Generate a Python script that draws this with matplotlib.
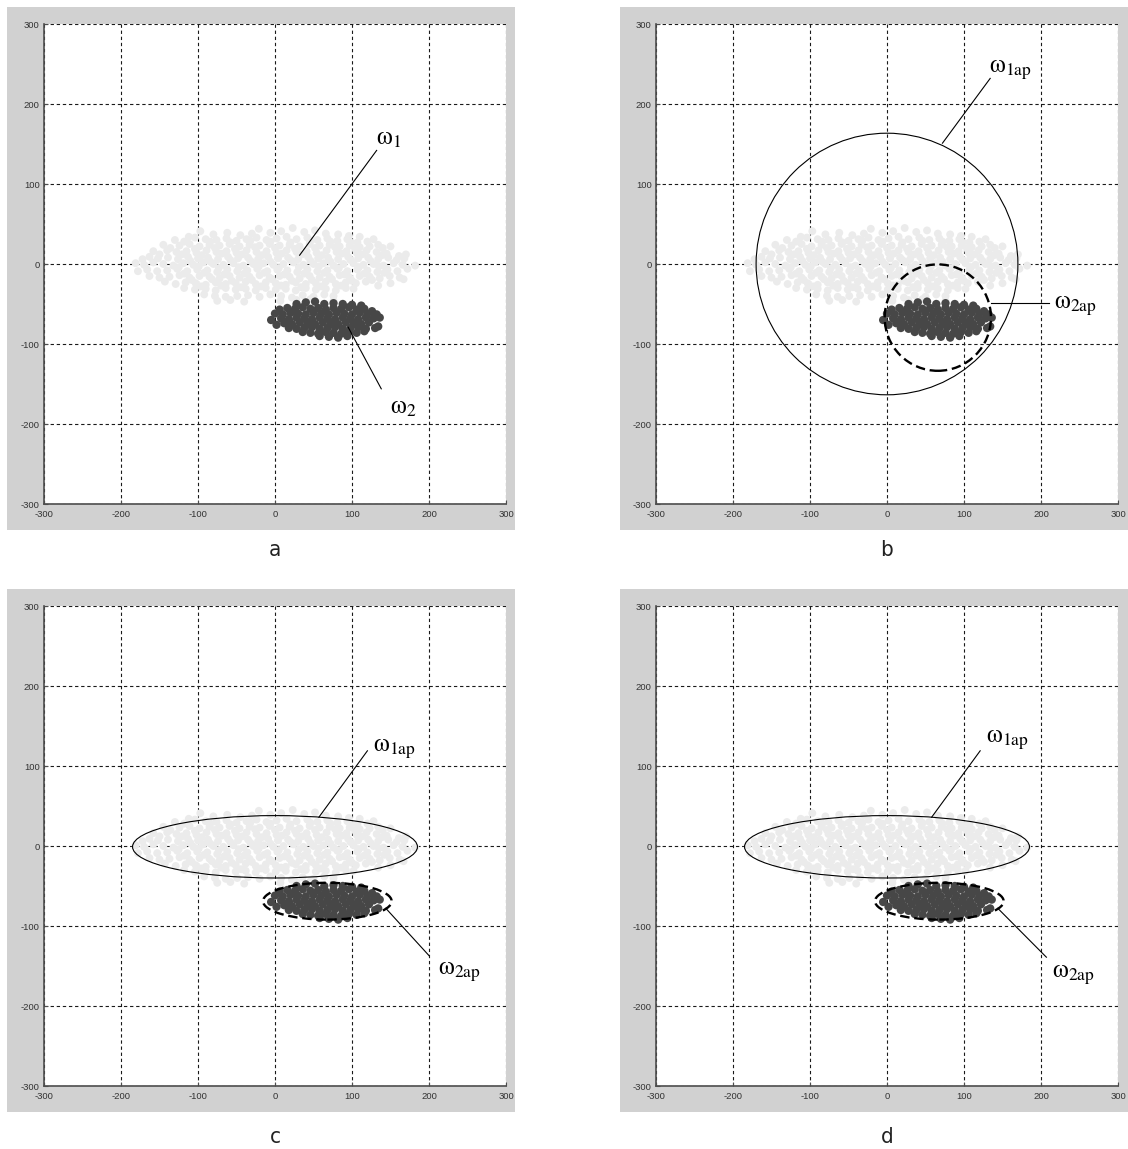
import matplotlib
matplotlib.use('Agg')
import matplotlib.pyplot as plt
from matplotlib.patches import Ellipse, Rectangle

plt.rcParams['mathtext.fontset'] = 'stix'
plt.rcParams['mathtext.default'] = 'rm'
plt.rcParams['axes.unicode_minus'] = False

# ---------------- data ----------------
ticks = [-300, -200, -100, 0, 100, 200, 300]
panel_letters = ['a', 'b', 'c', 'd']

# class omega_1 (light cloud)
w1_points = [
    (-97, 41), (-80, 37), (-62, 39), (-45, 36), (-30, 38), (-21, 44), (-6, 39), (8, 41), (23, 45),
    (38, 40), (52, 42), (66, 38), (82, 37), (96, 35), (-112, 34), (110, 34), (128, 31),
    (-130, 30), (-118, 28), (-104, 33), (-90, 31), (-76, 30), (-63, 32), (-50, 29), (-37, 31),
    (-24, 33), (-11, 30), (2, 32), (15, 34), (28, 31), (42, 33), (55, 30), (68, 32), (81, 29),
    (94, 31), (107, 27), (120, 28), (134, 24),
    (-145, 24), (-136, 20), (-124, 23), (-111, 25), (-98, 22), (-85, 24), (-72, 23), (-59, 25),
    (-46, 22), (-33, 24), (-20, 23), (-7, 25), (6, 23), (19, 24), (32, 22), (45, 25), (58, 23),
    (71, 24), (84, 22), (97, 23), (110, 21), (123, 22), (140, 20), (150, 22),
    (-158, 16), (-150, 12), (-140, 17), (-128, 15), (-115, 16), (-102, 14), (-89, 17), (-76, 15),
    (-63, 16), (-50, 14), (-37, 17), (-24, 15), (-11, 16), (2, 14), (15, 17), (28, 15), (41, 16),
    (54, 14), (67, 17), (80, 15), (93, 16), (106, 14), (119, 17), (132, 15), (145, 13), (161, 10),
    (170, 12),
    (-172, 6), (-163, 9), (-152, 7), (-139, 8), (-126, 6), (-113, 9), (-100, 7), (-87, 8), (-74, 6),
    (-61, 9), (-48, 7), (-35, 8), (-22, 6), (-9, 9), (4, 7), (17, 8), (30, 6), (43, 9), (56, 7),
    (69, 8), (82, 6), (95, 9), (108, 7), (121, 8), (134, 6), (147, 8), (158, 5), (168, 7),
    (-181, 1), (-170, -1), (-158, 2), (-145, 0), (-132, -2), (-119, 1), (-106, -1), (-93, 2),
    (-80, 0), (-67, -1), (-54, 1), (-41, -2), (-28, 0), (-15, 1), (-2, -1), (11, 0), (24, 2),
    (37, -1), (50, 0), (63, 1), (76, -2), (89, 0), (102, 1), (115, -1), (128, 0), (141, -2),
    (154, 1), (166, -1), (182, -2),
    (-178, -9), (-166, -7), (-153, -9), (-140, -8), (-127, -6), (-114, -9), (-101, -7), (-88, -8),
    (-75, -10), (-62, -7), (-49, -9), (-36, -8), (-23, -6), (-10, -9), (3, -7), (16, -8), (29, -10),
    (42, -7), (55, -9), (68, -8), (81, -6), (94, -9), (107, -7), (120, -8), (133, -10), (146, -7),
    (159, -9), (172, -6),
    (-163, -15), (-150, -17), (-137, -16), (-124, -14), (-111, -17), (-98, -15), (-85, -16),
    (-72, -18), (-59, -15), (-46, -17), (-33, -16), (-20, -14), (-7, -17), (6, -15), (19, -16),
    (32, -18), (45, -15), (58, -17), (71, -16), (84, -14), (97, -17), (110, -15), (123, -16),
    (136, -18), (149, -15), (162, -17), (167, -19),
    (-143, -22), (-129, -25), (-116, -23), (-103, -24), (-90, -26), (-77, -23), (-64, -25),
    (-51, -24), (-38, -22), (-25, -25), (-12, -23), (1, -24), (14, -26), (27, -23), (40, -25),
    (53, -24), (66, -22), (79, -25), (92, -23), (105, -24), (118, -22), (134, -27), (150, -24),
    (-118, -30), (-104, -32), (-90, -31), (-77, -33), (-64, -30), (-51, -32), (-38, -31),
    (-25, -33), (-12, -30), (1, -32), (14, -31), (27, -33), (40, -30), (53, -32), (66, -31),
    (79, -33), (92, -30), (102, -31),
    (-92, -38), (-78, -40), (-64, -41), (-49, -40), (-35, -39), (-20, -41), (-6, -38), (8, -40),
    (22, -42), (36, -39), (50, -41), (64, -38), (76, -40),
    (-75, -46), (-58, -45), (-40, -47), (7, -46), (28, -45), (46, -44), (76, -46),
    # denser core
    (-110, 4), (-84, 3), (-58, 5), (-32, 4), (-6, 3), (20, 5), (46, 4), (72, 3), (98, 5), (124, 4),
    (-121, 12), (-95, 11), (-69, 13), (-43, 12), (-17, 11), (9, 13), (35, 12), (61, 11), (87, 13),
    (113, 12), (139, 11),
    (-104, 19), (-78, 20), (-52, 19), (-26, 21), (0, 20), (26, 19), (52, 20), (78, 21), (104, 19),
    (-125, -4), (-99, -3), (-73, -5), (-47, -4), (-21, -3), (5, -5), (31, -4), (57, -3), (83, -5),
    (109, -4), (135, -3),
    (-118, -12), (-92, -11), (-66, -13), (-40, -12), (-14, -11), (12, -13), (38, -12), (64, -11),
    (90, -13), (116, -12), (142, -11),
    (-108, -20), (-82, -19), (-56, -21), (-30, -20), (-4, -19), (22, -21), (48, -20), (74, -19),
    (100, -21), (126, -20),
    (-96, -28), (-70, -27), (-44, -29), (-18, -28), (8, -27), (34, -29), (60, -28), (86, -27),
    (-84, 28), (-58, 27), (-32, 29), (-6, 28), (20, 27), (46, 29), (72, 28), (98, 27),
]

# class omega_2 (dark cloud)
w2_points = [
    (28, -50), (40, -48), (52, -47), (64, -50), (76, -49), (88, -50), (100, -51), (112, -52),
    (6, -57), (16, -55), (26, -56), (36, -54), (46, -56), (56, -55), (66, -57), (76, -55),
    (86, -56), (96, -54), (106, -57), (116, -56), (126, -59),
    (0, -62), (10, -63), (20, -61), (30, -62), (40, -63), (50, -61), (60, -62), (70, -63),
    (80, -61), (90, -62), (100, -63), (110, -61), (120, -62), (132, -63),
    (-5, -70), (8, -68), (18, -69), (28, -67), (38, -68), (48, -69), (58, -67), (68, -68),
    (78, -69), (88, -67), (98, -68), (108, -69), (118, -67), (128, -68), (136, -67),
    (2, -76), (12, -74), (22, -75), (32, -73), (42, -74), (52, -75), (62, -73), (72, -74),
    (82, -75), (92, -73), (102, -74), (112, -75), (122, -73), (134, -78),
    (18, -80), (28, -81), (38, -80), (48, -79), (58, -81), (68, -80), (78, -79), (88, -81),
    (98, -80), (108, -79), (118, -81), (130, -80),
    (36, -85), (46, -86), (56, -87), (66, -85), (76, -86), (86, -87), (96, -85), (106, -86),
    (116, -84),
    (58, -90), (70, -91), (82, -92), (94, -90),
]

# fitted regions per panel: (center x, center y, width, height); None = not drawn
w1ap_shapes = [None, (0, 0, 340, 327), (0, -1, 370, 78), (0, -1, 370, 78)]
w2ap_shapes = [None, (66, -67, 138, 133), (68, -69, 167, 46), (68, -69, 167, 46)]

# leader lines and labels per panel: (label, x0, y0, x1, y1, text x, text y)
labels_per_panel = [
    [(r'$\omega_1$', 32, 11, 132, 142, 131, 158),
     (r'$\omega_2$', 95, -79, 138, -156, 149, -179)],
    [(r'$\omega_{1ap}$', 72, 151, 134, 232, 132, 243),
     (r'$\omega_{2ap}$', 135, -49, 210, -49, 217, -53)],
    [(r'$\omega_{1ap}$', 57, 36, 120, 119, 127, 121),
     (r'$\omega_{2ap}$', 144, -78, 200, -137, 212, -158)],
    [(r'$\omega_{1ap}$', 58, 36, 121, 119, 128, 132),
     (r'$\omega_{2ap}$', 144, -78, 207, -139, 214, -161)],
]

# ---------------- layout ----------------
W, H = 1128, 1149
fig = plt.figure(figsize=(W / 100, H / 100), dpi=100)
fig.patch.set_facecolor('white')

def fx(px):
    return px / W

def fy(py):
    return 1 - py / H

# gray frames (pixel boxes: left, top, right, bottom)
frames = [(7, 7, 515, 530), (620, 7, 1128, 530), (7, 589, 515, 1112), (620, 589, 1128, 1112)]
axes_boxes = [(44, 24, 506, 504), (656, 24, 1118, 504), (44, 606, 506, 1086), (656, 606, 1118, 1086)]
letter_pos = [(275, 550), (887, 550), (275, 1137), (887, 1137)]

for (l, t, r, b) in frames:
    fig.patches.append(Rectangle((fx(l), fy(b)), fx(r) - fx(l), fy(t) - fy(b),
                                 transform=fig.transFigure, facecolor='#d1d1d1',
                                 edgecolor='none', zorder=-10))

w1x = [p[0] for p in w1_points]
w1y = [p[1] for p in w1_points]
w2x = [p[0] for p in w2_points]
w2y = [p[1] for p in w2_points]

for i in range(4):
    l, t, r, b = axes_boxes[i]
    ax = fig.add_axes([fx(l), fy(b), fx(r) - fx(l), fy(t) - fy(b)])
    ax.set_zorder(1)
    ax.set_facecolor('white')
    ax.set_xlim(-300, 300)
    ax.set_ylim(-300, 300)
    ax.set_xticks(ticks)
    ax.set_yticks(ticks)
    ax.set_xticklabels([str(v) for v in ticks])
    ax.set_yticklabels([str(v) for v in ticks])
    ax.set_axisbelow(True)
    ax.grid(True, color='#1a1a1a', linestyle=(0, (3, 2.5)), linewidth=0.8)
    for s in ['top', 'right']:
        ax.spines[s].set_visible(False)
    for s in ['left', 'bottom']:
        ax.spines[s].set_color('#4d4d4d')
        ax.spines[s].set_linewidth(1.2)
    ax.tick_params(direction='in', length=3, width=0.8, color='#4d4d4d',
                   labelsize=6.8, labelcolor='#333333', pad=3)
    ax.tick_params(axis='x', pad=4.5)
    for lab in ax.get_xticklabels() + ax.get_yticklabels():
        lab.set_fontfamily('Liberation Sans')

    ax.scatter(w1x, w1y, s=32, c='#ebebeb', edgecolors='none', zorder=2)
    ax.scatter(w2x, w2y, s=36, c='#474747', edgecolors='none', zorder=3)

    if w1ap_shapes[i] is not None:
        cx, cy, w, h = w1ap_shapes[i]
        ax.add_patch(Ellipse((cx, cy), w, h, fill=False, edgecolor='black',
                             linewidth=0.8, zorder=4))
    if w2ap_shapes[i] is not None:
        cx, cy, w, h = w2ap_shapes[i]
        ax.add_patch(Ellipse((cx, cy), w, h, fill=False, edgecolor='black',
                             linewidth=1.7, linestyle=(0, (4, 2)), zorder=5))

    for (txt, x0, y0, x1, y1, tx, ty) in labels_per_panel[i]:
        ax.plot([x0, x1], [y0, y1], color='black', linewidth=0.8, zorder=6)
        ax.text(tx, ty, txt, fontsize=18, ha='left', va='center', color='black', zorder=7)

    lx, ly = letter_pos[i]
    fig.text(fx(lx), fy(ly), panel_letters[i], ha='center', va='center', fontsize=16,
             family='DejaVu Sans', fontstretch='condensed', color='#222222')

fig.savefig('out.png', dpi=100, facecolor='white')
